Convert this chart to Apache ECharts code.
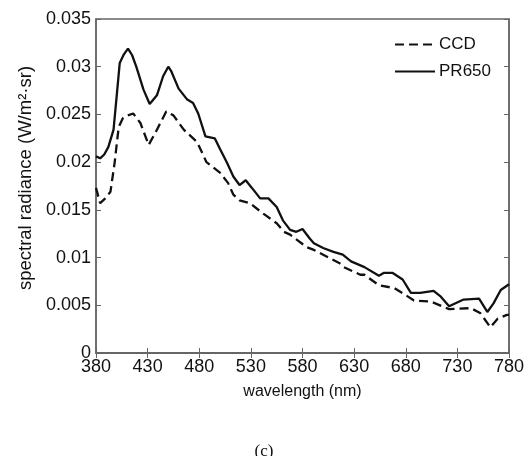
<!DOCTYPE html>
<html>
<head>
<meta charset="utf-8">
<script src="https://cdn.jsdelivr.net/npm/echarts@6/dist/echarts.min.js"></script>
<style>
html, body { margin: 0; padding: 0; background: #fff; }
#main { width: 528px; height: 456px; }
</style>
</head>
<body>
<div id="main"></div>
<script>
// PR650 (solid) readings
var prWave = [380, 384, 388, 392, 397, 400, 403, 407, 411, 415, 419, 426, 432, 439, 445, 450, 453, 460, 468, 474, 479, 486, 495, 500, 507, 513, 519, 525, 531, 539, 547, 555, 561, 568, 574, 580, 587, 591, 600, 610, 619, 627, 640, 654, 659, 667, 677, 685, 694, 707, 714, 722, 736, 751, 759, 765, 772, 780];
var prVal = [0.0206, 0.0204, 0.0208, 0.0216, 0.0234, 0.0269, 0.0304, 0.0313, 0.0319, 0.0312, 0.0300, 0.0276, 0.0261, 0.0270, 0.0290, 0.0300, 0.0295, 0.0277, 0.0266, 0.0262, 0.0251, 0.0227, 0.0225, 0.0214, 0.0199, 0.0185, 0.0176, 0.0181, 0.0173, 0.0162, 0.0162, 0.0153, 0.0139, 0.0129, 0.0127, 0.0130, 0.0120, 0.0115, 0.0110, 0.0106, 0.0103, 0.0096, 0.0090, 0.0081, 0.0084, 0.0084, 0.0077, 0.0063, 0.0063, 0.0065, 0.0059, 0.0049, 0.0056, 0.0057, 0.0043, 0.0052, 0.0066, 0.0072];

// CCD (dashed) readings
var ccdWave = [380, 384, 389, 394, 398, 402, 406, 411, 416, 423, 431, 439, 448, 455, 465, 478, 487, 500, 508, 513, 519, 529, 542, 555, 562, 568, 584, 591, 600, 616, 620, 636, 640, 654, 669, 678, 688, 704, 722, 743, 752, 762, 769, 778, 780];
var ccdVal = [0.0173, 0.0157, 0.0162, 0.0169, 0.0199, 0.0237, 0.0246, 0.0249, 0.0251, 0.0241, 0.0218, 0.0234, 0.0253, 0.0249, 0.0234, 0.0221, 0.0200, 0.0189, 0.0178, 0.0166, 0.0160, 0.0157, 0.0146, 0.0136, 0.0127, 0.0124, 0.0111, 0.0108, 0.0103, 0.0094, 0.0090, 0.0082, 0.0082, 0.0071, 0.0068, 0.0062, 0.0055, 0.0054, 0.0046, 0.0047, 0.0042, 0.0027, 0.0036, 0.0040, 0.0040];

function pairs(xs, ys) {
    var out = [];
    for (var i = 0; i < xs.length; i++) out.push([xs[i], ys[i]]);
    return out;
}

var myChart = echarts.init(document.getElementById('main'));
var font = 'Liberation Sans, Arial, sans-serif';
var axisColor = '#666';
var textColor = '#111';

myChart.setOption({
    animation: false,
    title: {
        text: '(c)',
        left: 'center',
        top: 438,
        textStyle: { fontFamily: 'Liberation Serif, serif', fontSize: 17, fontWeight: 'normal', color: textColor }
    },
    legend: {
        orient: 'vertical',
        right: 32,
        top: 31,
        itemWidth: 40,
        itemHeight: 14,
        itemGap: 10,
        textStyle: { fontFamily: font, fontSize: 17, color: textColor, padding: [0, 0, 0, -1] },
        data: [
            { name: 'CCD', itemStyle: { opacity: 0 } },
            { name: 'PR650', itemStyle: { opacity: 0 } }
        ]
    },
    grid: { left: 96, right: 19, top: 19, bottom: 103, show: true, borderColor: axisColor, borderWidth: 1.5 },
    xAxis: [{
        type: 'value',
        min: 380, max: 780, interval: 50,
        name: 'wavelength (nm)',
        nameLocation: 'middle',
        nameGap: 31,
        nameTextStyle: { fontFamily: font, fontSize: 16, color: textColor },
        axisLine: { lineStyle: { color: axisColor, width: 1.5 } },
        axisTick: { inside: true, length: 5, lineStyle: { color: axisColor } },
        axisLabel: { fontFamily: font, fontSize: 18, color: textColor, margin: 5 },
        splitLine: { show: false }
    }, {
        type: 'value', position: 'top',
        min: 380, max: 780, interval: 50,
        axisLine: { lineStyle: { color: axisColor, width: 1.5 } },
        axisTick: { inside: true, length: 5, lineStyle: { color: axisColor } },
        axisLabel: { show: false },
        splitLine: { show: false }
    }],
    yAxis: [{
        type: 'value',
        min: 0, max: 0.035, interval: 0.005,
        name: 'spectral radiance (W/m²·sr)',
        nameLocation: 'middle',
        nameGap: 57,
        nameTextStyle: { fontFamily: font, fontSize: 18.5, color: textColor, padding: [0, 0, 0, 16] },
        axisLine: { show: true, lineStyle: { color: axisColor, width: 1.5 } },
        axisTick: { show: true, inside: true, length: 5, lineStyle: { color: axisColor } },
        axisLabel: { fontFamily: font, fontSize: 18, color: textColor, margin: 5 },
        splitLine: { show: false }
    }, {
        type: 'value', position: 'right',
        min: 0, max: 0.035, interval: 0.005,
        axisLine: { show: true, lineStyle: { color: axisColor, width: 1.5 } },
        axisTick: { show: true, inside: true, length: 5, lineStyle: { color: axisColor } },
        axisLabel: { show: false },
        splitLine: { show: false }
    }],
    series: [{
        name: 'CCD',
        type: 'line',
        symbol: 'none',
        data: pairs(ccdWave, ccdVal),
        itemStyle: { color: '#111' },
        lineStyle: { color: '#111', width: 2.3, type: [9, 5] }
    }, {
        name: 'PR650',
        type: 'line',
        symbol: 'none',
        data: pairs(prWave, prVal),
        itemStyle: { color: '#111' },
        lineStyle: { color: '#111', width: 2.3 }
    }]
});
</script>
</body>
</html>
